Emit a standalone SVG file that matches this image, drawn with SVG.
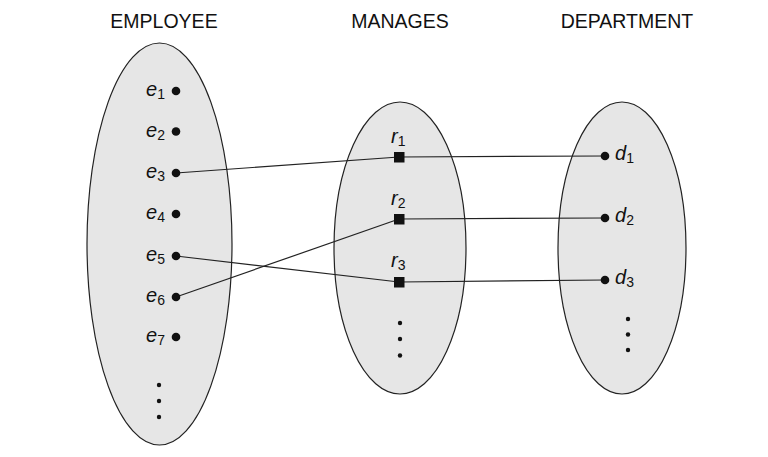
<svg xmlns="http://www.w3.org/2000/svg" width="768" height="457" viewBox="0 0 768 457">
<style>
.set{fill:#e6e6e6;stroke:#222;stroke-width:1.2}
.title{font-family:"Liberation Sans",Arial,sans-serif;font-size:19.5px;fill:#111;text-anchor:middle}
.lbl{font-family:"Liberation Sans",Arial,sans-serif;font-size:20px;font-style:italic;fill:#111}
.sub{font-size:14px;font-style:normal}
.pt{fill:#111}
.conn line{stroke:#222;stroke-width:1.2}
</style>
<rect width="768" height="457" fill="#fff"/>
<g id="titles">
<text class="title" x="164" y="28">EMPLOYEE</text>
<text class="title" x="400" y="28">MANAGES</text>
<text class="title" x="627" y="28">DEPARTMENT</text>
</g>
<g id="employee">
<ellipse class="set" cx="159.5" cy="244" rx="72.5" ry="201"/>
</g>
<g id="manages">
<ellipse class="set" cx="400" cy="248" rx="66" ry="146"/>
</g>
<g id="department">
<ellipse class="set" cx="622" cy="248" rx="64" ry="146"/>
</g>
<g id="connectors" class="conn">
<line x1="176" y1="173" x2="399" y2="157"/>
<line x1="176" y1="297" x2="399" y2="219"/>
<line x1="176" y1="256" x2="399" y2="282"/>
<line x1="399" y1="157" x2="605" y2="156"/>
<line x1="399" y1="219" x2="605" y2="218"/>
<line x1="399" y1="282" x2="605" y2="280"/>
</g>
<g id="e1"><circle class="pt" cx="176" cy="91" r="4.3"/><text class="lbl" x="146" y="96">e<tspan class="sub" dy="3">1</tspan></text></g>
<g id="e2"><circle class="pt" cx="176" cy="131.5" r="4.3"/><text class="lbl" x="146" y="136.5">e<tspan class="sub" dy="3">2</tspan></text></g>
<g id="e3"><circle class="pt" cx="176" cy="173" r="4.3"/><text class="lbl" x="146" y="178">e<tspan class="sub" dy="3">3</tspan></text></g>
<g id="e4"><circle class="pt" cx="176" cy="214" r="4.3"/><text class="lbl" x="146" y="219">e<tspan class="sub" dy="3">4</tspan></text></g>
<g id="e5"><circle class="pt" cx="176" cy="256" r="4.3"/><text class="lbl" x="146" y="261">e<tspan class="sub" dy="3">5</tspan></text></g>
<g id="e6"><circle class="pt" cx="176" cy="297" r="4.3"/><text class="lbl" x="146" y="302">e<tspan class="sub" dy="3">6</tspan></text></g>
<g id="e7"><circle class="pt" cx="176" cy="337" r="4.3"/><text class="lbl" x="146" y="342">e<tspan class="sub" dy="3">7</tspan></text></g>
<g id="e-more"><circle class="pt" cx="159" cy="385" r="2.2"/><circle class="pt" cx="159" cy="401" r="2.2"/><circle class="pt" cx="159" cy="417" r="2.2"/></g>
<g id="r1"><rect class="pt" x="394" y="152" width="10.5" height="10.5"/><text class="lbl" x="391" y="143">r<tspan class="sub" dy="3">1</tspan></text></g>
<g id="r2"><rect class="pt" x="394" y="214" width="10.5" height="10.5"/><text class="lbl" x="391" y="205">r<tspan class="sub" dy="3">2</tspan></text></g>
<g id="r3"><rect class="pt" x="394" y="277" width="10.5" height="10.5"/><text class="lbl" x="391" y="267">r<tspan class="sub" dy="3">3</tspan></text></g>
<g id="r-more"><circle class="pt" cx="400" cy="323" r="2.2"/><circle class="pt" cx="400" cy="339" r="2.2"/><circle class="pt" cx="400" cy="355.5" r="2.2"/></g>
<g id="d1"><circle class="pt" cx="605" cy="156" r="4.3"/><text class="lbl" x="615" y="160">d<tspan class="sub" dy="3">1</tspan></text></g>
<g id="d2"><circle class="pt" cx="605" cy="218" r="4.3"/><text class="lbl" x="615" y="222">d<tspan class="sub" dy="3">2</tspan></text></g>
<g id="d3"><circle class="pt" cx="605" cy="280" r="4.3"/><text class="lbl" x="615" y="284">d<tspan class="sub" dy="3">3</tspan></text></g>
<g id="d-more"><circle class="pt" cx="628" cy="319" r="2.2"/><circle class="pt" cx="628" cy="334.5" r="2.2"/><circle class="pt" cx="628" cy="350" r="2.2"/></g>
</svg>
